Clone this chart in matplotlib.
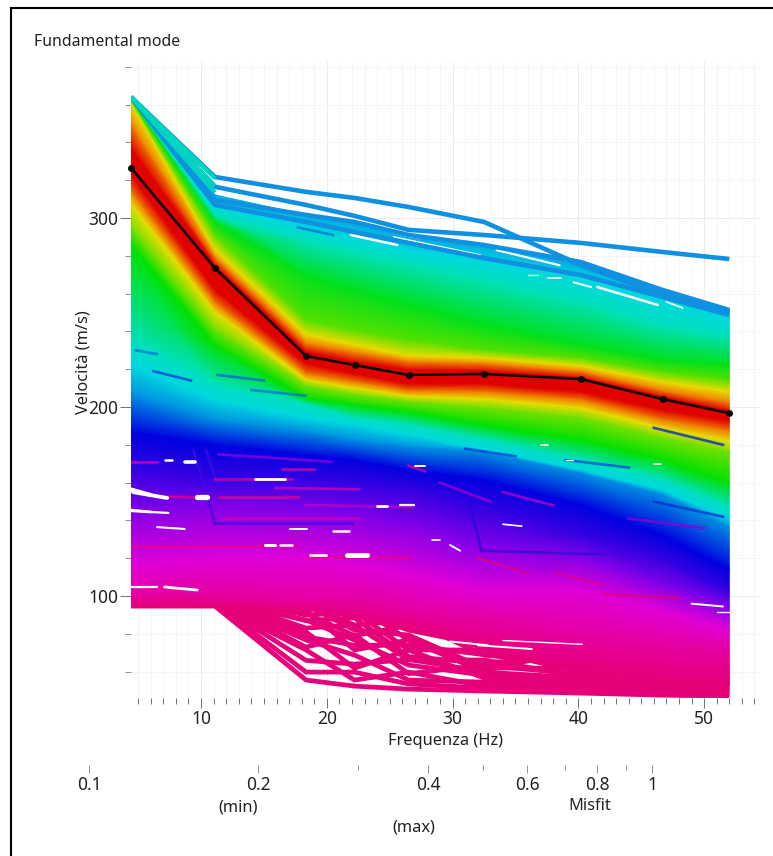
import numpy as np
import matplotlib
matplotlib.use('Agg')
import matplotlib.pyplot as plt
from matplotlib.colors import LinearSegmentedColormap
from matplotlib.lines import Line2D
from matplotlib.ticker import FixedLocator, NullFormatter

plt.rcParams['font.family'] = ['Noto Sans', 'DejaVu Sans']

freq = [4.43, 11.1, 18.35, 22.2, 26.5, 32.5, 40.2, 46.7, 52.0]

best_curve = [326.5, 273.5, 227.0, 222.2, 217.0, 217.5, 214.8, 204.2, 196.8]

# misfit colour level of each band edge, red = best fit
band_levels = [0.54, 0.48, 0.42, 0.32, 0.24, 0.14, 0.07, 0.0, 0.0, 0.0, 0.07, 0.14,
               0.22, 0.30, 0.42, 0.48, 0.58, 0.66, 0.70, 0.76, 0.84, 0.92, 1.0]
band_curves = [
    [364.0, 312.2, 301.6, 296.8, 289.4, 285.7, 275.1, 260.9, 251.3],
    [363.5, 306.9, 294.7, 289.4, 283.0, 276.7, 268.3, 256.6, 247.1],
    [363.0, 301.6, 288.4, 283.0, 276.7, 268.3, 256.6, 243.4, 238.1],
    [362.4, 297.9, 269.8, 261.9, 254.0, 243.4, 232.8, 224.9, 222.2],
    [361.9, 291.0, 246.0, 240.8, 235.5, 230.2, 225.9, 218.5, 214.3],
    [360.3, 283.0, 238.1, 232.8, 227.0, 225.9, 221.7, 213.2, 208.0],
    [349.2, 278.8, 233.3, 228.6, 223.8, 222.8, 218.5, 208.5, 202.1],
    [337.0, 274.6, 229.1, 223.8, 219.6, 219.0, 215.4, 205.3, 197.9],
    [326.5, 273.5, 227.0, 222.2, 217.0, 217.5, 214.8, 204.2, 196.8],
    [322.7, 261.9, 222.8, 217.5, 212.2, 212.2, 208.0, 198.4, 192.6],
    [313.8, 255.0, 217.5, 213.2, 208.5, 208.0, 203.7, 193.1, 187.3],
    [307.4, 250.3, 214.3, 210.0, 205.8, 204.2, 199.5, 188.9, 182.0],
    [294.7, 240.8, 211.1, 206.4, 202.7, 199.5, 194.2, 183.6, 176.2],
    [285.7, 232.8, 204.8, 201.1, 197.4, 190.5, 182.6, 172.0, 159.8],
    [235.5, 211.7, 201.1, 194.2, 190.5, 182.6, 172.0, 161.4, 147.1],
    [222.2, 203.7, 194.2, 190.5, 185.2, 177.3, 166.7, 156.0, 141.3],
    [206.4, 193.1, 186.8, 182.6, 178.9, 176.2, 165.1, 153.5, 136.5],
    [186.8, 179.9, 174.6, 172.0, 166.7, 161.4, 148.2, 132.3, 113.8],
    [166.7, 161.4, 161.4, 158.8, 156.1, 145.5, 132.3, 119.1, 102.2],
    [145.5, 148.2, 145.5, 142.9, 137.6, 127.0, 120.7, 105.9, 94.2],
    [116.4, 119.1, 119.1, 116.4, 111.1, 103.2, 103.2, 92.6, 82.0],
    [100.6, 100.6, 98.0, 98.0, 92.6, 87.3, 79.4, 74.1, 70.4],
    [94.7, 94.7, 92.6, 88.4, 83.1, 71.5, 61.0, 56.0, 53.0],
]

# low end of the cloud, single curves with holes between them
fan_curves = [
    [94.7, 94.7, 55.6, 52.4, 50.8, 49.8, 48.7, 47.6, 47.1],
    [95.3, 96.3, 59.8, 59.8, 53.5, 51.4, 50.3, 49.2, 48.2],
    [95.3, 95.8, 71.5, 55.6, 59.8, 52.4, 51.4, 50.3, 49.2],
    [95.8, 97.4, 76.8, 68.8, 55.6, 54.5, 52.4, 51.4, 50.3],
    [95.8, 97.9, 81.0, 61.9, 71.5, 56.7, 53.5, 52.4, 51.4],
    [96.3, 97.9, 87.3, 76.8, 63.5, 58.2, 55.6, 53.5, 52.4],
    [96.9, 99.0, 92.6, 71.5, 76.8, 59.8, 56.7, 54.5, 53.5],
    [96.9, 99.5, 83.1, 84.7, 66.2, 66.2, 57.7, 55.6, 54.5],
    [97.4, 100.0, 95.3, 82.0, 79.4, 61.9, 61.9, 56.7, 55.6],
    [97.9, 100.0, 89.9, 91.6, 71.5, 71.5, 59.8, 58.2, 56.7],
    [97.9, 100.0, 95.3, 84.7, 87.3, 68.8, 64.0, 59.8, 58.2],
    [97.9, 100.0, 98.0, 92.6, 82.0, 74.1, 66.2, 61.9, 60.9],
    [97.9, 100.0, 98.0, 95.3, 76.8, 60.9, 71.5, 64.0, 62.5],
    [95.8, 96.5, 66.0, 64.0, 66.5, 60.0, 54.0, 52.0, 50.0],
    [96.0, 98.0, 73.0, 79.5, 59.0, 63.5, 58.5, 55.0, 52.0],
    [96.5, 98.5, 78.5, 74.0, 74.0, 69.0, 64.5, 60.0, 56.0],
    [97.0, 99.0, 87.0, 88.5, 68.0, 64.5, 69.0, 63.0, 58.0],
    [97.2, 99.5, 91.0, 79.0, 84.5, 77.0, 62.5, 58.0, 54.0],
]

# highest misfit-side curves above the cloud
top_curves = [
    [364.0, 309.5, 301.6, 297.9, 291.0, 285.7, 276.7, 261.9, 251.3],
    [364.0, 306.9, 297.9, 292.6, 286.8, 278.8, 269.8, 258.2, 248.7],
    [364.0, 321.7, 313.8, 310.6, 305.8, 297.9, 275.1, 259.3, 250.3],
    [364.0, 316.5, 306.9, 301.1, 293.7, 291.0, 286.8, 282.0, 278.3],
]
teal_freq = [4.43, 11.1]
teal_curves = [[364.0, 321.0], [364.0, 317.0], [364.0, 313.5]]

# holes in the cloud: freq start, vel start, freq end, vel end
hole_f1 = [4.6, 4.4, 9.7, 6.5, 15.1, 16.3, 18.7, 21.6, 20.5, 24.0, 25.8, 4.4, 7.1, 28.4, 17.1,
           8.7, 7.1, 14.3, 27.0, 13.3, 21.9, 25.3, 33.5, 39.9, 41.5, 47.0, 50.2, 36.0, 37.6, 39.6,
           29.8, 32.0, 34.0, 29.8, 49.0, 51.0, 34.0, 46.0, 37.0, 39.0, 4.4, 4.4]
hole_v1 = [155.0, 145.0, 152.4, 136.5, 127.0, 127.0, 121.7, 121.7, 134.4, 147.6, 148.2, 104.8, 104.8, 129.7, 135.5,
           171.0, 172.0, 162.0, 169.0, 312.2, 291.0, 290.0, 283.0, 276.0, 263.5, 255.6, 252.0, 270.0, 268.0, 266.0,
           76.0, 74.0, 76.5, 127.0, 96.0, 91.5, 138.0, 170.0, 180.0, 172.0, 156.5, 145.5]
hole_f2 = [7.3, 7.4, 10.5, 8.7, 15.9, 17.2, 19.9, 23.2, 21.8, 24.8, 26.9, 6.5, 9.7, 29.0, 18.4,
           9.5, 7.7, 16.7, 27.8, 23.7, 25.6, 32.2, 38.5, 42.5, 46.3, 48.3, 51.0, 36.8, 38.6, 41.0,
           32.8, 36.3, 40.3, 30.6, 51.5, 52.0, 35.5, 46.6, 37.6, 39.6, 6.0, 6.0]
hole_v2 = [151.9, 144.0, 152.4, 135.5, 127.0, 127.0, 121.7, 121.7, 134.4, 147.6, 148.2, 104.8, 103.2, 129.7, 135.5,
           171.0, 172.0, 162.0, 169.0, 297.4, 285.7, 280.4, 275.0, 271.0, 254.0, 252.4, 250.0, 270.0, 268.0, 263.5,
           74.0, 72.0, 74.5, 124.0, 94.5, 91.5, 137.0, 170.0, 180.0, 172.0, 153.5, 144.5]
hole_widths = [2.8, 1.6, 3.8, 1.5, 2.2, 1.8, 2.0, 3.6, 1.8, 2.0, 1.6, 1.6, 2.0, 1.2, 1.4,
               2.6, 1.8, 2.0, 1.4, 1.0, 1.8, 1.2, 1.6, 1.6, 1.8, 1.2, 1.0, 1.0, 1.2, 1.4,
               1.4, 1.4, 1.0, 1.4, 1.4, 1.0, 1.2, 1.2, 1.2, 1.0, 2.8, 2.0]

# darker or pinker single curves showing through the bands
streak_f1 = [4.8, 6.2, 11.3, 14.0, 17.7, 9.4, 10.4, 11.1, 31.3, 32.3, 4.4, 11.1, 11.4, 4.4, 7.4, 11.9, 18.3, 18.5, 15.9, 11.4,
             16.4, 26.5, 32.0, 38.2, 42.0, 46.0, 31.0, 39.0, 46.0, 29.0, 34.0, 44.0]
streak_v1 = [230.0, 219.0, 217.0, 209.0, 295.0, 177.3, 177.3, 138.5, 150.0, 124.0, 171.0, 161.9, 152.4, 126.5, 152.6, 141.3, 148.2, 120.7, 157.2, 175.0,
             167.2, 169.0, 120.0, 112.0, 101.0, 189.0, 178.0, 172.0, 150.0, 160.0, 155.0, 141.0]
streak_f2 = [6.5, 9.2, 15.0, 18.3, 20.5, 11.1, 11.4, 22.0, 32.3, 42.0, 6.5, 17.2, 17.7, 17.7, 10.1, 22.5, 26.8, 26.5, 22.5, 20.4,
             19.0, 27.8, 36.0, 42.0, 48.0, 51.5, 35.0, 44.0, 51.5, 33.0, 38.0, 50.0]
streak_v2 = [228.0, 214.0, 214.0, 206.0, 291.0, 138.5, 157.0, 138.5, 124.0, 122.0, 171.0, 161.9, 152.4, 126.5, 152.0, 141.3, 147.0, 120.7, 156.5, 171.0,
             167.2, 166.0, 112.0, 106.0, 99.0, 180.0, 174.0, 168.0, 142.0, 150.0, 148.0, 136.0]
streak_colors = ['#0070d8', '#0038d8', '#0060e0', '#0070e0', '#0070d8', '#3a10e0', '#3a10e0', '#3a10e0', '#2a08d8', '#3010d0',
                 '#e000b0', '#e80090', '#e80090', '#e80088', '#e80088', '#d000b8', '#c000c8', '#e80090', '#d000c0', '#9000e0',
                 '#e000a0', '#e000a0', '#e00090', '#e00090', '#e0007c', '#0020d0',
                 '#0040d8', '#0048d8', '#0030d0', '#a000d8', '#c000c8', '#9000d0']

x_major = [10, 20, 30, 40, 50]
y_major = [100, 200, 300]
misfit_major = [0.1, 0.2, 0.4, 0.6, 0.8, 1.0]
misfit_minor = [0.3, 0.5, 0.7, 0.9]
misfit_labels = ['0.1', '0.2', '0.4', '0.6', '0.8', '1']

band_colors = [(0.0, '#e00000'), (0.07, '#f08000'), (0.14, '#e8e000'), (0.22, '#70e000'),
               (0.30, '#00e000'), (0.42, '#00e0c0'), (0.48, '#00d8e0'), (0.58, '#0090e0'),
               (0.66, '#0000e0'), (0.76, '#8000e8'), (0.84, '#e000d8'), (0.92, '#e600a0'),
               (1.0, '#e6007a')]
misfit_cmap = LinearSegmentedColormap.from_list('misfit', band_colors)


def px_x(x):
    return x / 773


def px_y(y):
    return 1 - y / 856


fig = plt.figure(figsize=(7.73, 8.56), dpi=100)
ax = fig.add_axes([px_x(131), px_y(698), (760 - 131) / 773, (698 - 62) / 856])

# pink fan goes under the bands
for curve in fan_curves:
    ax.plot(freq, curve, color='#e6007a', lw=3.4, solid_joinstyle='miter', solid_capstyle='butt', zorder=2)

x_grid, _ = np.meshgrid(freq, band_levels)
y_grid = np.array(band_curves)
c_grid = np.tile(np.array(band_levels)[:, None], (1, len(freq)))
ax.pcolormesh(x_grid, y_grid, c_grid, cmap=misfit_cmap, vmin=0, vmax=1, shading='gouraud',
              zorder=3, rasterized=True)

for f1, v1, f2, v2, col in zip(streak_f1, streak_v1, streak_f2, streak_v2, streak_colors):
    ax.plot([f1, f2], [v1, v2], color=col, lw=1.9, alpha=0.75, zorder=4)
for f1, v1, f2, v2, w in zip(hole_f1, hole_v1, hole_f2, hole_v2, hole_widths):
    ax.plot([f1, f2], [v1, v2], color='white', lw=w, solid_capstyle='round', zorder=5)

for curve in top_curves:
    ax.plot(freq, curve, color='#1090e0', lw=3.3, solid_capstyle='butt', zorder=6)
for curve in teal_curves:
    ax.plot(teal_freq, curve, color='#00d4c0', lw=3.0, solid_capstyle='butt', zorder=7)

ax.plot(freq, best_curve, color='#0a0a0a', lw=1.9, marker='o', ms=4, zorder=8, clip_on=False)

ax.set_xlim(4.43, 54.44)
ax.set_ylim(46.1, 382.5)
for side in ax.spines.values():
    side.set_visible(False)

ax.set_xticks(x_major)
ax.set_xticks(np.arange(5, 55), minor=True)
ax.set_yticks(y_major)
ax.set_yticks(np.arange(60, 381, 20), minor=True)
ax.grid(which='major', color='#ebebeb', lw=0.7, zorder=0)
ax.grid(which='minor', color='#f5f5f5', lw=0.7, zorder=0)
ax.set_axisbelow(True)
ax.tick_params(axis='x', which='major', length=7, width=0.7, color='#707070', labelsize=12.5, pad=1.5, labelcolor='#222222')
ax.tick_params(axis='x', which='minor', length=4.5, width=0.7, color='#707070')
ax.tick_params(axis='y', which='major', length=8, width=0.7, color='#707070', labelsize=12.5, pad=1, labelcolor='#222222')
ax.tick_params(axis='y', which='minor', length=4.5, width=0.7, color='#909090')

# misfit scale under the frequency axis
ax2 = fig.add_axes([px_x(89), px_y(765), (652 - 89) / 773, 0.001])
ax2.set_xscale('log')
ax2.set_xlim(0.1, 1.0)
ax2.patch.set_visible(False)
ax2.yaxis.set_visible(False)
for side in ax2.spines.values():
    side.set_visible(False)
ax2.xaxis.set_major_locator(FixedLocator(misfit_major))
ax2.xaxis.set_minor_locator(FixedLocator(misfit_minor))
ax2.set_xticklabels(misfit_labels)
ax2.xaxis.set_minor_formatter(NullFormatter())
ax2.tick_params(axis='x', which='major', length=6, width=0.7, color='#909090', labelsize=12.5, pad=2, labelcolor='#222222')
ax2.tick_params(axis='x', which='minor', length=3.5, width=0.7, color='#909090')

text_color = '#222222'
fig.text(px_x(34), px_y(42), 'Fundamental mode', fontsize=11.4, color=text_color, va='center')
fig.text(px_x(445), px_y(741), 'Frequenza (Hz)', fontsize=11.8, color=text_color, ha='center', va='center')
fig.text(px_x(83), px_y(362), 'Velocità (m/s)', fontsize=11.8, color=text_color, rotation=90, ha='center', va='center')
fig.text(px_x(238), px_y(807), '(min)', fontsize=11.8, color=text_color, ha='center', va='center')
fig.text(px_x(590), px_y(806), 'Misfit', fontsize=11.8, color=text_color, ha='center', va='center')
fig.text(px_x(414), px_y(827), '(max)', fontsize=11.8, color=text_color, ha='center', va='center')

# frame of the original screenshot, left and top only
fig.add_artist(Line2D([px_x(11), px_x(11)], [px_y(8), 0], color='black', lw=1.5))
fig.add_artist(Line2D([px_x(11), 1], [px_y(8), px_y(8)], color='black', lw=1.5))

fig.savefig('out.png', dpi=100)
